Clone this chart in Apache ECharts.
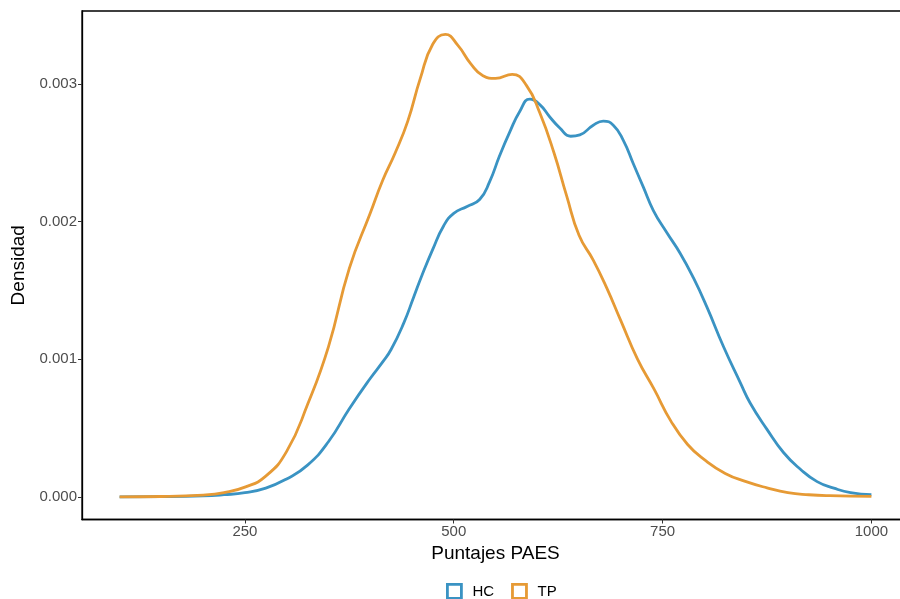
<!DOCTYPE html>
<html>
<head>
<meta charset="utf-8">
<script src="https://cdn.jsdelivr.net/npm/echarts@6/dist/echarts.min.js"></script>
<style>
  html, body { margin: 0; padding: 0; background: #fff; }
  #chart { width: 900px; height: 599px; }
</style>
</head>
<body>
<div id="chart"></div>
<script>
// puntajes y densidades
var hcScores = [100, 150, 200, 225, 250, 275, 300, 325, 350, 375, 400, 415, 425, 440, 452, 462, 475, 488, 500, 516, 531, 543, 555, 567, 579, 591, 603, 615, 627, 640, 651, 667, 679, 691, 703, 715, 727, 739, 755, 771, 787, 803, 823, 843, 855, 875, 895, 915, 935, 955, 975, 1000]
var hcDens = [0, 0.000001, 0.000006, 0.000015, 0.00003, 0.000063, 0.00013, 0.00023, 0.0004, 0.00064, 0.00086, 0.00098, 0.00107, 0.00126, 0.00145, 0.00161, 0.0018, 0.00197, 0.00206, 0.00211, 0.00216, 0.00229, 0.00248, 0.00265, 0.0028, 0.00289, 0.00285, 0.00276, 0.00268, 0.00262, 0.00263, 0.0027, 0.00273, 0.0027, 0.00259, 0.00242, 0.00225, 0.00208, 0.00192, 0.00177, 0.00159, 0.00138, 0.00109, 0.00083, 0.00068, 0.00049, 0.00032, 0.0002, 0.00011, 0.000063, 0.00003, 0.000015]

var tpScores = [100, 150, 200, 225, 250, 275, 300, 325, 350, 375, 400, 415, 430, 445, 460, 475, 490, 505, 520, 535, 550, 570, 587, 603, 620, 635, 650, 667, 683, 700, 720, 740, 760, 780, 800, 825, 850, 875, 900, 925, 950, 1000]
var tpDens = [0, 0.000002, 0.000012, 0.00003, 0.00007, 0.00015, 0.00033, 0.00067, 0.00109, 0.00166, 0.00206, 0.0023, 0.0025, 0.00273, 0.00304, 0.00329, 0.00336, 0.00328, 0.00315, 0.00306, 0.00304, 0.00307, 0.00299, 0.00279, 0.0025, 0.00219, 0.0019, 0.00172, 0.00152, 0.00128, 0.001, 0.00078, 0.00055, 0.00038, 0.00027, 0.00017, 0.00011, 0.000065, 0.00003, 0.000015, 0.000008, 0.000003]

var xTicks = [250, 500, 750, 1000]
var yTicks = [0, 0.001, 0.002, 0.003]

var colors = { HC: '#3a93c3', TP: '#e69a35' }

function pairs(xs, ys) {
  return xs.map(function (x, i) { return [x, ys[i]] })
}

var chart = echarts.init(document.getElementById('chart'))
var labelFont = 'Liberation Sans, Arial, sans-serif'

chart.setOption({
  animation: false,
  grid: {
    left: 82,
    top: 11,
    right: -9,
    bottom: 79.5,
    outerBoundsMode: 'none',
    containLabel: false,
    show: true,
    borderColor: '#000',
    borderWidth: 1.3,
    backgroundColor: 'transparent'
  },
  xAxis: {
    type: 'value',
    min: 55,
    max: 1045,
    name: 'Puntajes PAES',
    nameLocation: 'middle',
    nameGap: 22,
    nameTextStyle: { color: '#000', fontSize: 19, fontFamily: labelFont },
    axisLine: { show: true, onZero: false, lineStyle: { color: '#000', width: 1.3 } },
    axisTick: { show: true, length: 4, customValues: xTicks, lineStyle: { color: '#333' } },
    axisLabel: {
      customValues: xTicks,
      color: '#4d4d4d',
      fontSize: 15,
      fontFamily: labelFont,
      margin: 5,
      formatter: function (v) { return String(v) }
    },
    splitLine: { show: false }
  },
  yAxis: {
    type: 'value',
    min: -0.000165,
    max: 0.00353,
    name: 'Densidad',
    nameLocation: 'middle',
    nameGap: 52,
    nameTextStyle: { color: '#000', fontSize: 19, fontFamily: labelFont },
    axisLine: { show: true, onZero: false, lineStyle: { color: '#000', width: 1.3 } },
    axisTick: { show: true, length: 4, customValues: yTicks, lineStyle: { color: '#333' } },
    axisLabel: {
      customValues: yTicks,
      color: '#4d4d4d',
      fontSize: 15,
      fontFamily: labelFont,
      margin: 5,
      formatter: function (v) { return v.toFixed(3) }
    },
    splitLine: { show: false }
  },
  legend: {
    left: 446,
    top: 583,
    padding: 0,
    itemWidth: 14,
    itemHeight: 14,
    itemGap: 17,
    textStyle: { color: '#000', fontSize: 15, fontFamily: labelFont, padding: [0, 0, 0, 6] },
    data: [
      { name: 'HC', icon: 'rect', itemStyle: { color: '#fff', borderColor: colors.HC, borderWidth: 2.8 } },
      { name: 'TP', icon: 'rect', itemStyle: { color: '#fff', borderColor: colors.TP, borderWidth: 2.8 } }
    ]
  },
  series: [
    {
      name: 'HC',
      type: 'line',
      data: pairs(hcScores, hcDens),
      smooth: 0.5,
      showSymbol: false,
      color: colors.HC,
      lineStyle: { width: 2.8, color: colors.HC }
    },
    {
      name: 'TP',
      type: 'line',
      data: pairs(tpScores, tpDens),
      smooth: 0.5,
      showSymbol: false,
      color: colors.TP,
      lineStyle: { width: 2.8, color: colors.TP }
    }
  ]
})
</script>
</body>
</html>
